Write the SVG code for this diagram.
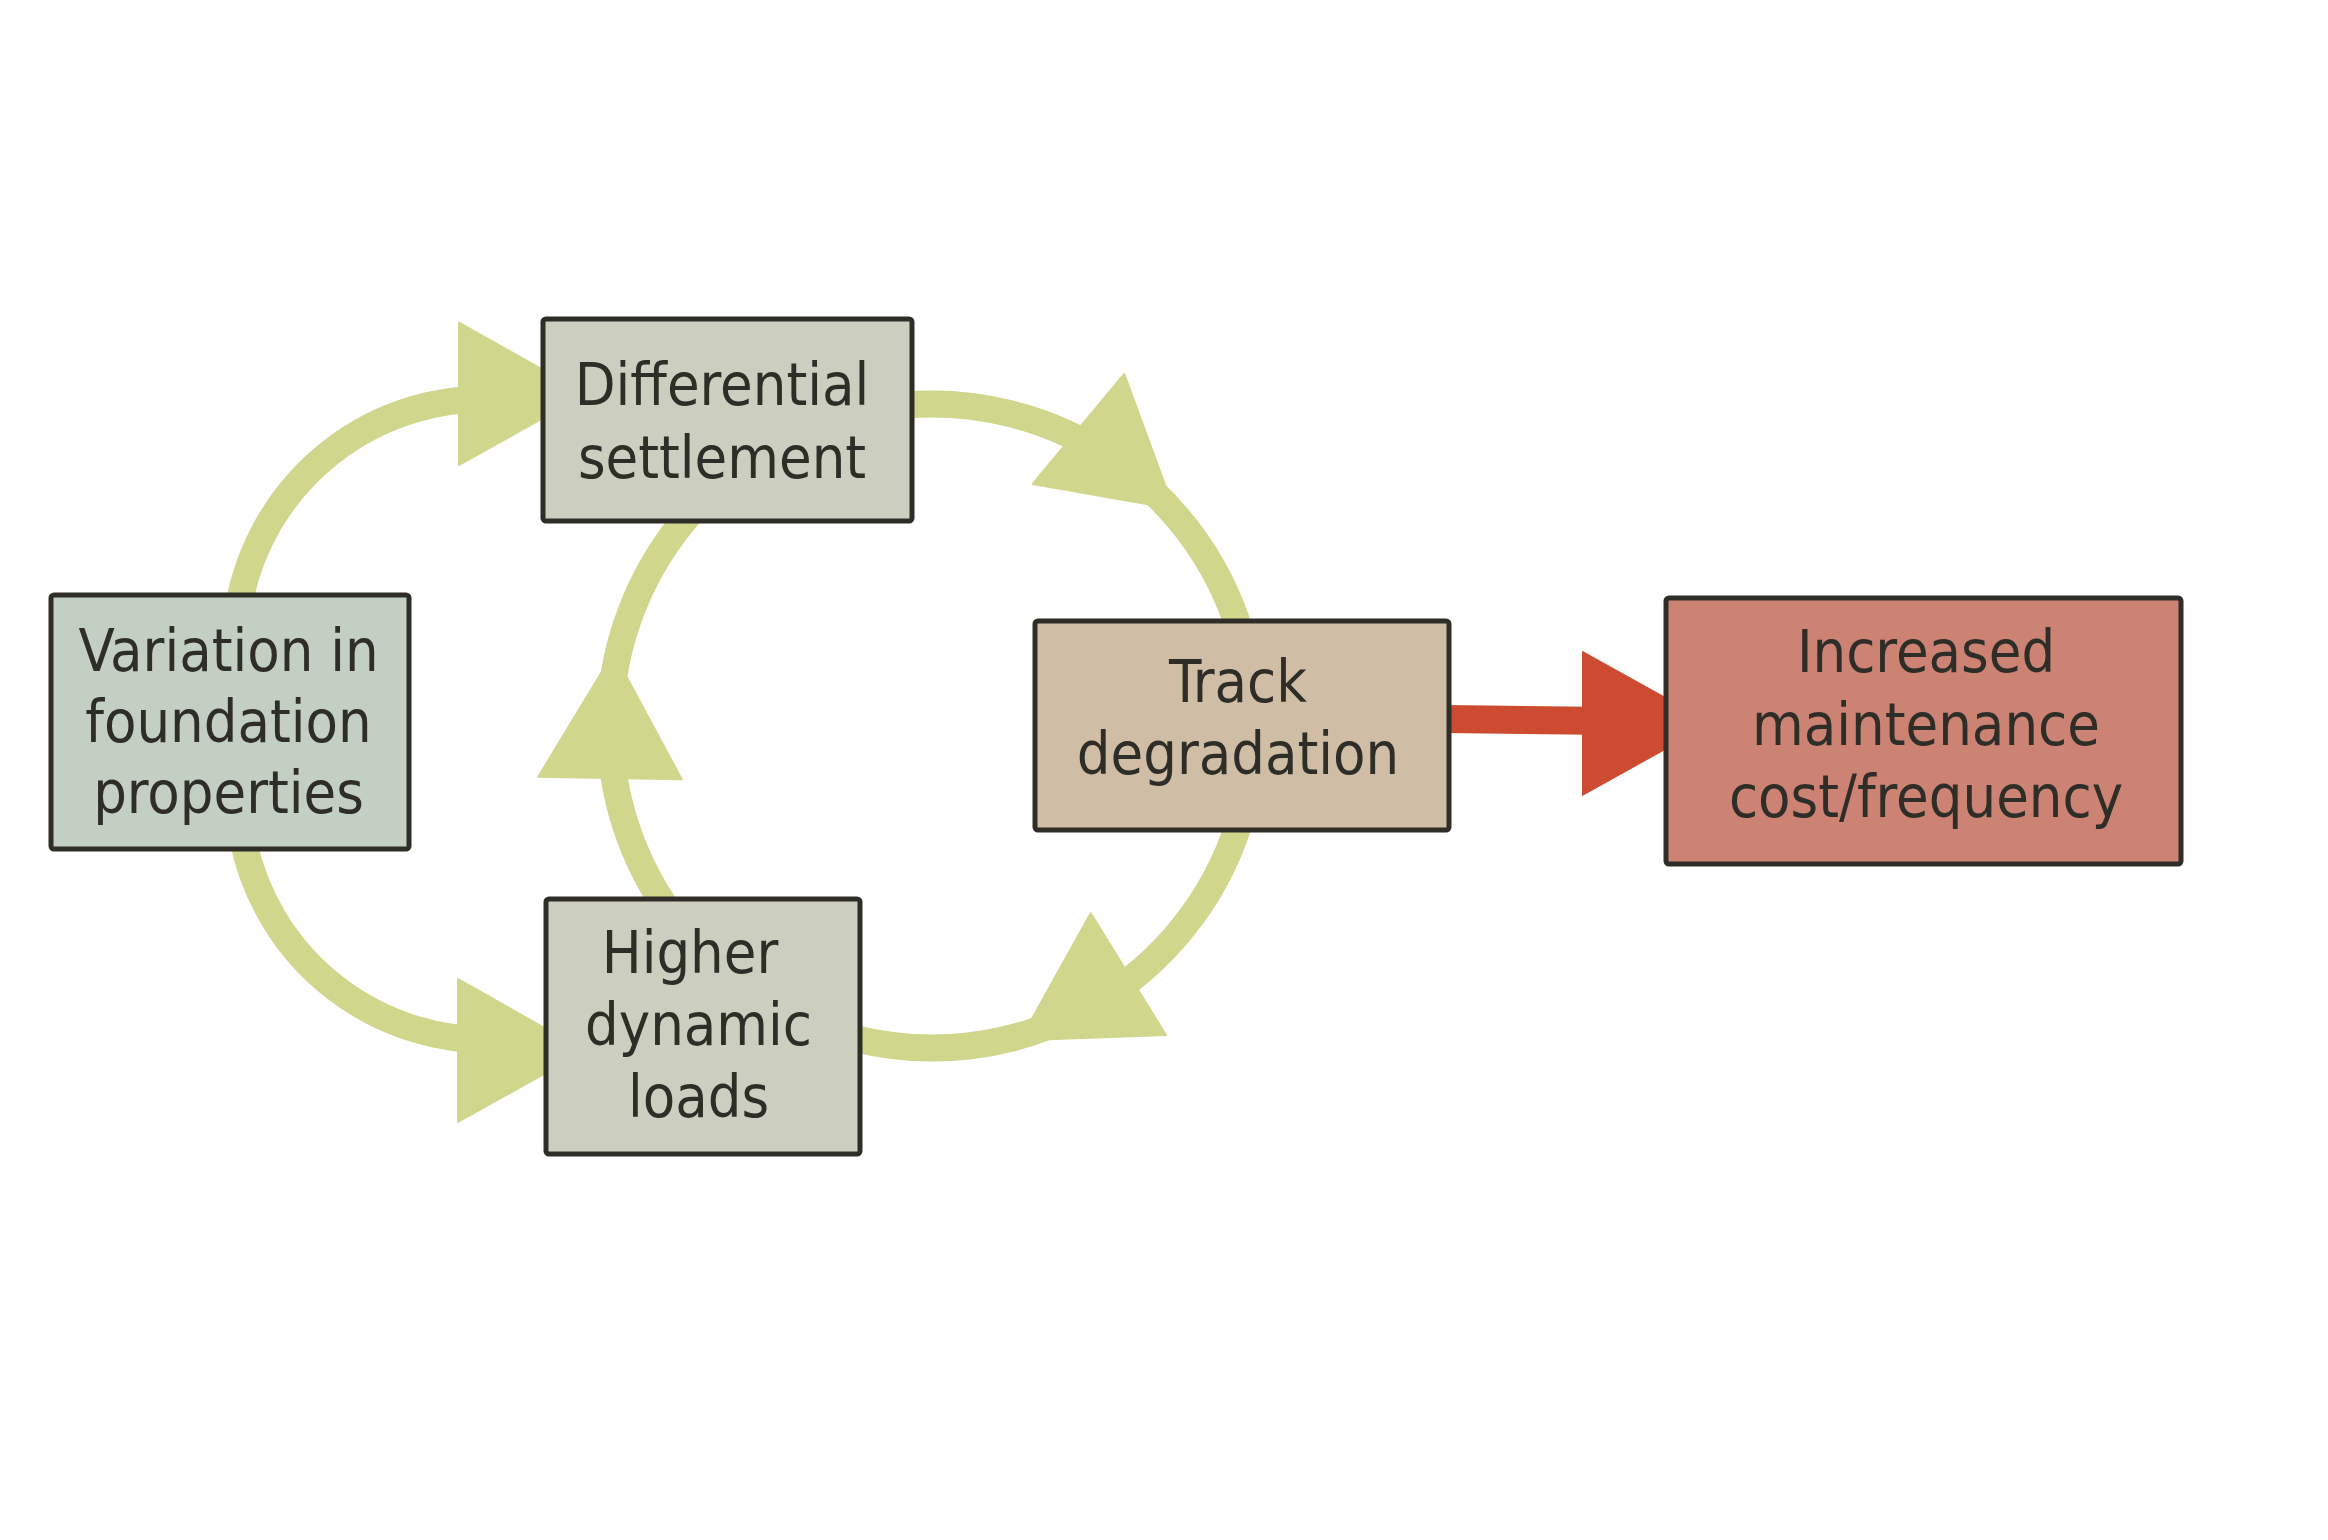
<svg xmlns="http://www.w3.org/2000/svg" width="2328" height="1540" viewBox="0 0 2328 1540">
  <style>
    .box { stroke: #2e2d27; stroke-width: 5; stroke-linejoin: round; }
    .lbl { font-family: "DejaVu Sans Condensed", "DejaVu Sans", sans-serif; font-stretch: condensed; font-size: 59px; fill: #2e2d27; text-anchor: middle; }
    .arc { fill: none; stroke: #d0d68c; stroke-width: 27; }
    .head { fill: #d0d68c; stroke: #d0d68c; stroke-width: 2; stroke-linejoin: round; }
    .red { stroke: #cc4b31; stroke-width: 28; fill: none; }
    .redhead { fill: #cc4b31; stroke: #cc4b31; stroke-width: 1; stroke-linejoin: round; }
  </style>
  <rect width="2328" height="1540" fill="#ffffff"/>
  <g id="connectors">
    <!-- Variation -> Differential -->
    <path class="arc" d="M 238.9 605 A 250 250 0 0 1 500 399.5"/>
    <polygon class="head" points="459,322.7 459,465 586,394"/>
    <!-- Variation -> Higher -->
    <path class="arc" d="M 243.1 840 A 250 250 0 0 0 500 1039.7"/>
    <polygon class="head" points="458,979 458,1122 585,1051"/>
    <!-- Differential -> Track -->
    <path class="arc" d="M 905 405.1 A 322 322 0 0 1 1239.4 630"/>
    <polygon class="head" points="1124.3,374 1032.7,484 1173.7,508.7"/>
    <!-- Track -> Higher -->
    <path class="arc" d="M 1238.4 825 A 322 322 0 0 1 855 1038.7"/>
    <polygon class="head" points="1090.7,913.3 1020,1040.3 1166,1035"/>
    <!-- Higher -> Differential -->
    <path class="arc" d="M 664.3 905 A 322 322 0 0 1 688.8 515"/>
    <polygon class="head" points="613.6,652.6 538.3,776.7 681.7,779.3"/>
    <!-- Track -> Increased -->
    <path class="red" d="M 1445 719 L 1590 720.8"/>
    <polygon class="redhead" points="1582.5,651.4 1582.5,795.4 1712,723.4"/>
  </g>
  <g id="n-variation">
    <rect class="box" x="51" y="595" width="358" height="254" rx="3" fill="#c3cfc3"/>
    <text class="lbl" x="228.5" y="670.5">Variation in</text>
    <text class="lbl" x="228.5" y="741.5">foundation</text>
    <text class="lbl" x="228.5" y="812.5">properties</text>
  </g>
  <g id="n-differential">
    <rect class="box" x="543" y="319" width="369" height="202" rx="3" fill="#cccfc0"/>
    <text class="lbl" x="722" y="405">Differential</text>
    <text class="lbl" x="722" y="478">settlement</text>
  </g>
  <g id="n-higher">
    <rect class="box" x="546" y="899" width="314" height="255" rx="3" fill="#cccfc0"/>
    <text class="lbl" x="690" y="973">Higher</text>
    <text class="lbl" x="698.5" y="1045">dynamic</text>
    <text class="lbl" x="698.5" y="1117">loads</text>
  </g>
  <g id="n-track">
    <rect class="box" x="1035" y="621" width="414" height="209" rx="3" fill="#cfbea5"/>
    <text class="lbl" x="1238" y="701.5">Track</text>
    <text class="lbl" x="1238" y="774">degradation</text>
  </g>
  <g id="n-increased">
    <rect class="box" x="1666" y="598" width="515" height="266" rx="3" fill="#cc8374"/>
    <text class="lbl" x="1926" y="672">Increased</text>
    <text class="lbl" x="1926" y="744.5">maintenance</text>
    <text class="lbl" x="1926" y="817">cost/frequency</text>
  </g>
</svg>
